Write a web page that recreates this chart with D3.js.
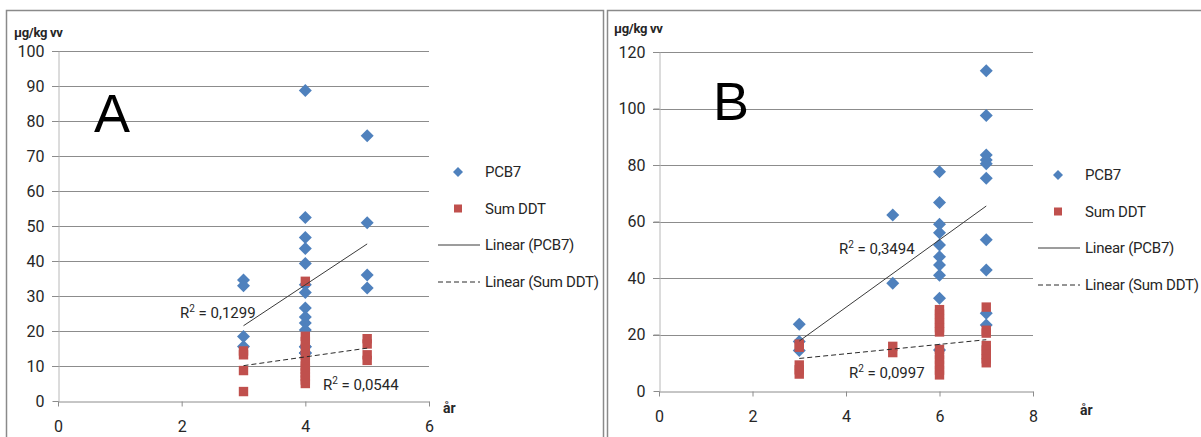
<!DOCTYPE html>
<html>
<head>
<meta charset="utf-8">
<script src="https://cdn.jsdelivr.net/npm/d3@7/dist/d3.min.js"></script>
<style>
  html, body { margin: 0; padding: 0; background: #fff; }
  svg { display: block; }
  text { font-family: Roboto, "Noto Sans", sans-serif; }
</style>
</head>
<body>
<svg id="chart" width="1201" height="437"></svg>
<script>
// Concentrations (µg/kg vv) per age (år): [år, value]
const pcb7A = [
  [3, 34.6], [3, 32.9], [3, 18.4], [3, 15.6],
  [4, 88.7], [4, 52.4], [4, 46.7], [4, 43.6], [4, 39.3], [4, 33.2], [4, 31.0],
  [4, 26.6], [4, 24.0], [4, 22.3], [4, 20.3], [4, 15.5], [4, 15.5], [4, 13.7], [4, 13.7], [4, 13.7],
  [5, 75.8], [5, 50.9], [5, 36.0], [5, 32.3]
];
const sumDdtA = [
  [3, 14.3], [3, 13.2], [3, 8.7], [3, 2.7],
  [4, 34.2], [4, 18.5], [4, 17.0], [4, 15.0], [4, 13.0], [4, 11.5], [4, 10.0],
  [4, 9.0], [4, 8.0], [4, 7.0], [4, 6.0], [4, 5.0],
  [5, 17.8], [5, 16.3], [5, 13.2], [5, 11.6]
];
const pcb7B = [
  [3, 23.6], [3, 17.5], [3, 14.3],
  [5, 62.3], [5, 38.1],
  [6, 77.6], [6, 66.7], [6, 59.0], [6, 56.0], [6, 51.7], [6, 47.5], [6, 44.6],
  [6, 41.0], [6, 32.8], [6, 14.5],
  [7, 113.4], [7, 97.5], [7, 83.5], [7, 81.8], [7, 80.4], [7, 75.3], [7, 53.5],
  [7, 42.8], [7, 27.5], [7, 23.4]
];
const sumDdtB = [
  [3, 16.6], [3, 15.5], [3, 9.2], [3, 7.5], [3, 6.0],
  [5, 15.8], [5, 13.6],
  [6, 28.8], [6, 27.2], [6, 25.6], [6, 24.0], [6, 22.4], [6, 20.9],
  [6, 14.7], [6, 12.8], [6, 11.0], [6, 9.2], [6, 7.4], [6, 5.7],
  [7, 29.7], [7, 21.5], [7, 20.5], [7, 16.1], [7, 14.5], [7, 12.9], [7, 11.4], [7, 10.0]
];

// Axis ticks
const xTicksA = [0, 2, 4, 6];
const yTicksA = [0, 10, 20, 30, 40, 50, 60, 70, 80, 90, 100];
const xTicksB = [0, 2, 4, 6, 8];
const yTicksB = [0, 20, 40, 60, 80, 100, 120];

// Trendline R² labels
const r2LabelsA = ["0,1299", "0,0544"];
const r2LabelsB = ["0,3494", "0,0997"];

const legendLabels = ["PCB7", "Sum DDT", "Linear (PCB7)", "Linear (Sum DDT)"];

const BLUE = "#4F81BD", RED = "#C0504D", GRID = "#8c8c8c", TEXT = "#262626";

const svg = d3.select("#chart");

// Panel frames
svg.append("rect").attr("x", 6.5).attr("y", 10.5).attr("width", 597).attr("height", 440)
  .attr("fill", "none").attr("stroke", "#8a8a8a").attr("stroke-width", 1.5);
svg.append("rect").attr("x", 607.5).attr("y", 10.5).attr("width", 600).attr("height", 440)
  .attr("fill", "none").attr("stroke", "#8a8a8a").attr("stroke-width", 1.5);

// Least-squares line over the observed x range
function fit(pts) {
  const mx = d3.mean(pts, d => d[0]), my = d3.mean(pts, d => d[1]);
  const sxy = d3.sum(pts, d => (d[0] - mx) * (d[1] - my));
  const sxx = d3.sum(pts, d => (d[0] - mx) ** 2);
  const b = sxy / sxx, a = my - b * mx;
  const [x0, x1] = d3.extent(pts, d => d[0]);
  return [[x0, a + b * x0], [x1, a + b * x1]];
}

const diamond = r => `M0,${-r}L${r},0L0,${r}L${-r},0Z`;

function panel(cfg) {
  const g = svg.append("g");
  const x = d3.scaleLinear().domain(cfg.xDomain).range([cfg.left, cfg.right]);
  const y = d3.scaleLinear().domain(cfg.yDomain).range([cfg.bottom, cfg.top]);

  // horizontal gridlines
  g.append("g").selectAll("line").data(cfg.yTicks.filter(v => v > 0)).join("line")
    .attr("x1", cfg.left - 6).attr("x2", cfg.right)
    .attr("y1", d => Math.round(y(d)) + 0.5).attr("y2", d => Math.round(y(d)) + 0.5)
    .attr("stroke", GRID).attr("stroke-width", 1);

  // y axis
  const ya = g.append("g").attr("transform", `translate(${cfg.left + 0.5},0)`)
    .call(d3.axisLeft(y).tickValues(cfg.yTicks).tickFormat(d3.format("d"))
      .tickSize(6).tickSizeOuter(0).tickPadding(8));
  ya.select(".domain").attr("stroke", "#b8b8b8");
  ya.selectAll(".tick line").attr("stroke", GRID);
  ya.selectAll(".tick text").attr("font-size", 16).attr("fill", TEXT)
    .style("font-family", "Roboto, sans-serif");

  // x axis
  const xa = g.append("g").attr("transform", `translate(0,${cfg.bottom + 0.5})`)
    .call(d3.axisBottom(x).tickValues(cfg.xTicks).tickFormat(d3.format("d"))
      .tickSize(5).tickSizeOuter(0).tickPadding(cfg.xPad));
  xa.select(".domain").attr("stroke", GRID);
  xa.selectAll(".tick line").attr("stroke", GRID);
  xa.selectAll(".tick text").attr("font-size", 16).attr("fill", TEXT)
    .style("font-family", "Roboto, sans-serif");

  // PCB7 diamonds
  g.append("g").selectAll("path").data(cfg.pcb).join("path")
    .attr("d", diamond(6.5))
    .attr("transform", d => `translate(${x(d[0])},${y(d[1])})`)
    .attr("fill", BLUE);

  // Sum DDT squares
  g.append("g").selectAll("rect").data(cfg.ddt).join("rect")
    .attr("x", d => x(d[0]) - 4.7).attr("y", d => y(d[1]) - 4.7)
    .attr("width", 9.4).attr("height", 9.4)
    .attr("fill", RED);

  // Linear trendlines
  const line = d3.line().x(d => x(d[0])).y(d => y(d[1]));
  g.append("path").attr("d", line(fit(cfg.pcb))).attr("stroke", "#3a3a3a")
    .attr("stroke-width", 1).attr("fill", "none");
  g.append("path").attr("d", line(fit(cfg.ddt))).attr("stroke", "#2a2a2a")
    .attr("stroke-width", 1).attr("stroke-dasharray", "5,3").attr("fill", "none");

  // R² labels
  cfg.r2.forEach((t, i) => {
    const txt = g.append("text").attr("x", cfg.r2Pos[i][0]).attr("y", cfg.r2Pos[i][1])
      .attr("font-size", 15).attr("fill", TEXT);
    txt.append("tspan").text("R");
    txt.append("tspan").text("2").attr("font-size", 10).attr("dy", -6);
    txt.append("tspan").text(" = " + t).attr("dy", 6);
  });

  // axis titles
  g.append("text").attr("x", cfg.unitPos[0]).attr("y", cfg.unitPos[1])
    .attr("font-size", 13).attr("font-weight", "bold").attr("fill", TEXT)
    .attr("letter-spacing", -0.3).text("µg/kg vv");
  g.append("text").attr("x", cfg.arPos[0]).attr("y", cfg.arPos[1])
    .attr("font-size", 14).attr("font-weight", "bold").attr("fill", TEXT).text("år");

  // panel letter
  g.append("text").attr("x", cfg.letterPos[0]).attr("y", cfg.letterPos[1])
    .attr("font-size", 54).attr("fill", "#000")
    .style("font-family", "'Liberation Sans', Arial, sans-serif").text(cfg.letter);

  // legend
  const lg = g.append("g").attr("transform", `translate(${cfg.legend[0]},${cfg.legend[1]})`);
  const rows = [0, 36.5, 73, 110];
  lg.append("path").attr("d", diamond(5)).attr("transform", `translate(0,${rows[0]})`).attr("fill", BLUE);
  lg.append("rect").attr("x", -4).attr("y", rows[1] - 4).attr("width", 8).attr("height", 8).attr("fill", RED);
  lg.append("line").attr("x1", -20).attr("x2", 22).attr("y1", rows[2]).attr("y2", rows[2])
    .attr("stroke", "#3a3a3a").attr("stroke-width", 1);
  lg.append("line").attr("x1", -20).attr("x2", 22).attr("y1", rows[3]).attr("y2", rows[3])
    .attr("stroke", "#2a2a2a").attr("stroke-width", 1).attr("stroke-dasharray", "5,3");
  lg.selectAll("text").data(legendLabels).join("text")
    .attr("x", 27).attr("y", (d, i) => rows[i]).attr("dy", "0.35em")
    .attr("font-size", 15).attr("letter-spacing", -0.25).attr("fill", TEXT).text(d => d);
}

panel({
  letter: "A", pcb: pcb7A, ddt: sumDdtA,
  xDomain: [0, 6], yDomain: [0, 100], xTicks: xTicksA, yTicks: yTicksA,
  left: 58, right: 429, top: 51, bottom: 401, xPad: 14,
  r2: r2LabelsA, r2Pos: [[180, 318], [323, 390]],
  unitPos: [14, 37], arPos: [443, 413], letterPos: [94, 132], legend: [458, 172]
});

panel({
  letter: "B", pcb: pcb7B, ddt: sumDdtB,
  xDomain: [0, 8], yDomain: [0, 120], xTicks: xTicksB, yTicks: yTicksB,
  left: 659, right: 1033, top: 52, bottom: 391, xPad: 14,
  r2: r2LabelsB, r2Pos: [[839, 254], [849, 378]],
  unitPos: [614, 33], arPos: [1080, 415], letterPos: [713, 120], legend: [1058, 175]
});
</script>
</body>
</html>
